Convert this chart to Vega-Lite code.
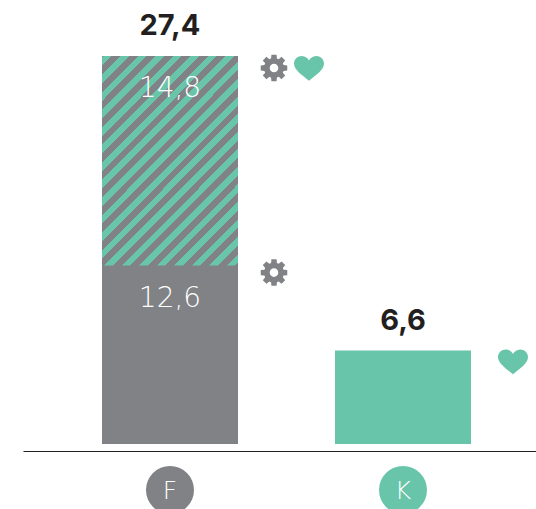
{
"$schema":"https://vega.github.io/schema/vega-lite/v6.json",
"width":513,"height":444,"autosize":"none",
"padding":{"left":23,"top":0,"right":0,"bottom":65},
"background":"white",
"config":{"view":{"stroke":null},"locale":{"number":{"decimal":",","thousands":".","grouping":[3],"currency":["","€"]}}},
"data":{"values":[
{"cat":"F","part":"Lower","order":1,"value":12.6},
{"cat":"F","part":"Upper","order":2,"value":14.8},
{"cat":"K","part":"Solid","order":1,"value":6.6}
]},
"transform":[{"stack":"value","groupby":["cat"],"sort":[{"field":"order","order":"ascending"}],"as":["y0","y1"]}],
"encoding":{
"x":{"field":"cat","type":"nominal","sort":["F","K"],
"scale":{"paddingInner":0.4163,"paddingOuter":0.309,"align":0.5486},
"axis":{"title":null,"orient":"bottom","offset":7,"zindex":1,"domainColor":"#231f20","domainWidth":1,"ticks":false,"grid":false,"labelAngle":0,"labelColor":"#ffffff","labelFont":"DejaVu Sans","labelFontWeight":200,"labelFontSize":25,"labelBaseline":"middle","labelPadding":39}}
},
"layer":[
{"transform":[{"filter":"datum.cat==='F'"},{"aggregate":[{"op":"sum","field":"value","as":"total"}],"groupby":["cat"]}],"mark":{"type":"bar","color":"#808285"},
"encoding":{"y":{"field":"total","type":"quantitative","axis":null,"scale":{"domain":[0,31.356],"nice":false,"zero":false}},"y2":{"datum":0}}},
{"transform":[{"filter":"datum.part==='Solid'"}],"mark":{"type":"bar","color":"#68c5a9"},
"encoding":{"y":{"field":"y0","type":"quantitative"},"y2":{"field":"y1"}}},
{"transform":[{"filter":"datum.part==='Upper'"}],"mark":{"type":"bar","color":{"gradient":"linear","x1":0,"y1":0,"x2":0.7546,"y2":1.1597,"stops":[
{"offset":0,"color":"#808285"},{"offset":0.00326,"color":"#808285"},
{"offset":0.00326,"color":"#68c5a9"},{"offset":0.02862,"color":"#68c5a9"},{"offset":0.02862,"color":"#808285"},{"offset":0.05399,"color":"#808285"},
{"offset":0.05399,"color":"#68c5a9"},{"offset":0.07935,"color":"#68c5a9"},{"offset":0.07935,"color":"#808285"},{"offset":0.10471,"color":"#808285"},
{"offset":0.10471,"color":"#68c5a9"},{"offset":0.13007,"color":"#68c5a9"},{"offset":0.13007,"color":"#808285"},{"offset":0.15543,"color":"#808285"},
{"offset":0.15543,"color":"#68c5a9"},{"offset":0.1808,"color":"#68c5a9"},{"offset":0.1808,"color":"#808285"},{"offset":0.20616,"color":"#808285"},
{"offset":0.20616,"color":"#68c5a9"},{"offset":0.23152,"color":"#68c5a9"},{"offset":0.23152,"color":"#808285"},{"offset":0.25688,"color":"#808285"},
{"offset":0.25688,"color":"#68c5a9"},{"offset":0.28225,"color":"#68c5a9"},{"offset":0.28225,"color":"#808285"},{"offset":0.30761,"color":"#808285"},
{"offset":0.30761,"color":"#68c5a9"},{"offset":0.33297,"color":"#68c5a9"},{"offset":0.33297,"color":"#808285"},{"offset":0.35833,"color":"#808285"},
{"offset":0.35833,"color":"#68c5a9"},{"offset":0.3837,"color":"#68c5a9"},{"offset":0.3837,"color":"#808285"},{"offset":0.40906,"color":"#808285"},
{"offset":0.40906,"color":"#68c5a9"},{"offset":0.43442,"color":"#68c5a9"},{"offset":0.43442,"color":"#808285"},{"offset":0.45978,"color":"#808285"},
{"offset":0.45978,"color":"#68c5a9"},{"offset":0.48514,"color":"#68c5a9"},{"offset":0.48514,"color":"#808285"},{"offset":0.51051,"color":"#808285"},
{"offset":0.51051,"color":"#68c5a9"},{"offset":0.53587,"color":"#68c5a9"},{"offset":0.53587,"color":"#808285"},{"offset":0.56123,"color":"#808285"},
{"offset":0.56123,"color":"#68c5a9"},{"offset":0.58659,"color":"#68c5a9"},{"offset":0.58659,"color":"#808285"},{"offset":0.61196,"color":"#808285"},
{"offset":0.61196,"color":"#68c5a9"},{"offset":0.63732,"color":"#68c5a9"},{"offset":0.63732,"color":"#808285"},{"offset":0.66268,"color":"#808285"},
{"offset":0.66268,"color":"#68c5a9"},{"offset":0.68804,"color":"#68c5a9"},{"offset":0.68804,"color":"#808285"},{"offset":0.71341,"color":"#808285"},
{"offset":0.71341,"color":"#68c5a9"},{"offset":0.73877,"color":"#68c5a9"},{"offset":0.73877,"color":"#808285"},{"offset":0.76413,"color":"#808285"},
{"offset":0.76413,"color":"#68c5a9"},{"offset":0.78949,"color":"#68c5a9"},{"offset":0.78949,"color":"#808285"},{"offset":0.81486,"color":"#808285"},
{"offset":0.81486,"color":"#68c5a9"},{"offset":0.84022,"color":"#68c5a9"},{"offset":0.84022,"color":"#808285"},{"offset":0.86558,"color":"#808285"},
{"offset":0.86558,"color":"#68c5a9"},{"offset":0.89094,"color":"#68c5a9"},{"offset":0.89094,"color":"#808285"},{"offset":0.9163,"color":"#808285"},
{"offset":0.9163,"color":"#68c5a9"},{"offset":0.94167,"color":"#68c5a9"},{"offset":0.94167,"color":"#808285"},{"offset":0.96703,"color":"#808285"},
{"offset":0.96703,"color":"#68c5a9"},{"offset":0.99239,"color":"#68c5a9"},{"offset":0.99239,"color":"#808285"},{"offset":1,"color":"#808285"}
]}},
"encoding":{"y":{"field":"y0","type":"quantitative"},"y2":{"field":"y1"}}},
{"transform":[{"filter":"datum.part!=='Solid'"}],"mark":{"type":"text","color":"#ffffff","font":"DejaVu Sans","fontWeight":200,"fontSize":28,"baseline":"middle","dy":33},
"encoding":{"y":{"field":"y1","type":"quantitative"},"text":{"field":"value","type":"quantitative","format":".1f"}}},
{"transform":[{"aggregate":[{"op":"sum","field":"value","as":"total"}],"groupby":["cat"]}],"mark":{"type":"text","color":"#231f20","font":"Inter","fontWeight":700,"fontSize":29,"baseline":"middle","dy":-30},
"encoding":{"y":{"field":"total","type":"quantitative"},"text":{"field":"total","type":"quantitative","format":".1f"}}},
{"transform":[{"filter":"datum.part==='Upper'"}],"mark":{"type":"point","filled":true,"opacity":1,"color":"#808285","size":729,"xOffset":104,"yOffset":12,"shape":"M-.216,-.708L-.191,-.982L.191,-.982L.216,-.708L.347,-.653L.559,-.829L.829,-.559L.653,-.347L.708,-.216L.982,-.191L.982,.191L.708,.216L.653,.347L.829,.559L.559,.829L.347,.653L.216,.708L.191,.982L-.191,.982L-.216,.708L-.347,.653L-.559,.829L-.829,.559L-.653,.347L-.708,.216L-.982,.191L-.982,-.191L-.708,-.216L-.653,-.347L-.829,-.559L-.559,-.829L-.347,-.653ZM0,-.32A.32,.32 0 1 0 0,.32A.32,.32 0 1 0 0,-.32Z"},
"encoding":{"y":{"field":"y1","type":"quantitative"}}},
{"transform":[{"filter":"datum.part==='Lower'"}],"mark":{"type":"point","filled":true,"opacity":1,"color":"#808285","size":729,"xOffset":104,"yOffset":7,"shape":"M-.216,-.708L-.191,-.982L.191,-.982L.216,-.708L.347,-.653L.559,-.829L.829,-.559L.653,-.347L.708,-.216L.982,-.191L.982,.191L.708,.216L.653,.347L.829,.559L.559,.829L.347,.653L.216,.708L.191,.982L-.191,.982L-.216,.708L-.347,.653L-.559,.829L-.829,.559L-.653,.347L-.708,.216L-.982,.191L-.982,-.191L-.708,-.216L-.653,-.347L-.829,-.559L-.559,-.829L-.347,-.653ZM0,-.32A.32,.32 0 1 0 0,.32A.32,.32 0 1 0 0,-.32Z"},
"encoding":{"y":{"field":"y1","type":"quantitative"}}},
{"transform":[{"filter":"datum.part==='Upper'"}],"mark":{"type":"point","filled":true,"opacity":1,"color":"#68c5a9","size":900,"xOffset":139,"yOffset":12,"shape":"M0,.85C-.5,.45 -1,.1 -1,-.3C-1,-.6 -.75,-.8 -.48,-.8C-.25,-.8 -.08,-.65 0,-.5C.08,-.65 .25,-.8 .48,-.8C.75,-.8 1,-.6 1,-.3C1,.1 .5,.45 0,.85Z"},
"encoding":{"y":{"field":"y1","type":"quantitative"}}},
{"transform":[{"filter":"datum.part==='Solid'"}],"mark":{"type":"point","filled":true,"opacity":1,"color":"#68c5a9","size":900,"xOffset":110,"yOffset":11,"shape":"M0,.85C-.5,.45 -1,.1 -1,-.3C-1,-.6 -.75,-.8 -.48,-.8C-.25,-.8 -.08,-.65 0,-.5C.08,-.65 .25,-.8 .48,-.8C.75,-.8 1,-.6 1,-.3C1,.1 .5,.45 0,.85Z"},
"encoding":{"y":{"field":"y1","type":"quantitative"}}},
{"transform":[{"filter":"datum.order===1"}],"mark":{"type":"circle","opacity":1,"size":2304,"yOffset":46},
"encoding":{"y":{"datum":0,"type":"quantitative"},"color":{"field":"cat","type":"nominal","scale":{"domain":["F","K"],"range":["#808285","#68c5a9"]},"legend":null}}}
]
}
